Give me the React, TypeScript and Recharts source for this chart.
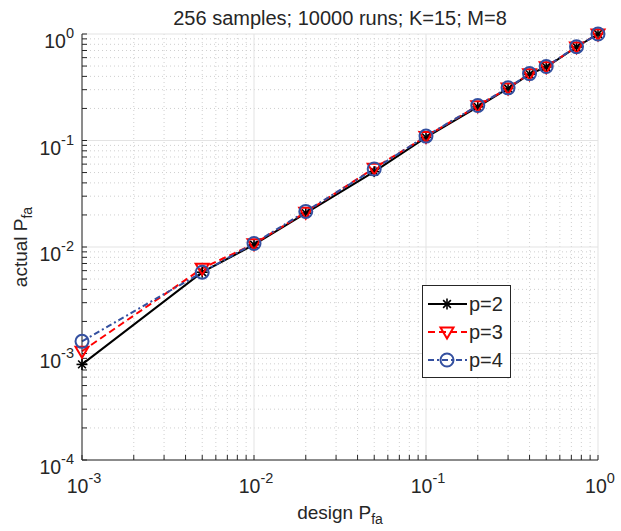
import React from "react";
import { LineChart, Line, XAxis, YAxis, CartesianGrid } from "recharts";

// design Pfa on the x axis
const designPfa = [0.001, 0.005, 0.01, 0.02, 0.05, 0.1, 0.2, 0.3, 0.4, 0.5, 0.75, 1];
// actual Pfa per filter order
const p2 = [7.9e-4, 5.8e-3, 0.0105, 0.0208, 0.051, 0.107, 0.207, 0.308, 0.42, 0.49, 0.755, 1.0];
const p3 = [1.05e-3, 6.3e-3, 0.0107, 0.0212, 0.055, 0.109, 0.212, 0.311, 0.423, 0.493, 0.757, 1.0];
const p4 = [1.3e-3, 5.8e-3, 0.0108, 0.0216, 0.054, 0.11, 0.213, 0.312, 0.425, 0.495, 0.76, 1.0];

const seriesNames = ["p=2", "p=3", "p=4"];
const xMajor = [0.001, 0.01, 0.1, 1];
const yMajor = [0.0001, 0.001, 0.01, 0.1, 1];

const minorsOf = (majors: number[]) =>
  majors.slice(0, -1).flatMap((m) => [2, 3, 4, 5, 6, 7, 8, 9].map((k) => k * m));

const xMinor = minorsOf(xMajor);
const yMinor = minorsOf(yMajor);
const xTicks = [...xMajor, ...xMinor].sort((a, b) => a - b);
const yTicks = [...yMajor, ...yMinor].sort((a, b) => a - b);

const data = designPfa.map((x, i) => ({ x, p2: p2[i], p3: p3[i], p4: p4[i] }));

const AXIS = "#262626";
const RED = "#ff0000";
const BLUE = "#3450a0";
const FONT = "'Liberation Sans', Arial, Helvetica, sans-serif";

const isMajor = (v: number) => Math.abs(Math.log10(v) - Math.round(Math.log10(v))) < 1e-9;

const Star = ({ cx, cy, color, s = 5.5 }: any) => {
  const d = s * 0.707;
  return (
    <g stroke={color} strokeWidth={1.6}>
      <line x1={cx - s} y1={cy} x2={cx + s} y2={cy} />
      <line x1={cx} y1={cy - s} x2={cx} y2={cy + s} />
      <line x1={cx - d} y1={cy - d} x2={cx + d} y2={cy + d} />
      <line x1={cx - d} y1={cy + d} x2={cx + d} y2={cy - d} />
    </g>
  );
};

const TriDown = ({ cx, cy, color }: any) => (
  <polygon
    points={`${cx - 6.5},${cy - 4.5} ${cx + 6.5},${cy - 4.5} ${cx},${cy + 6.5}`}
    fill="none"
    stroke={color}
    strokeWidth={2}
  />
);

const Ring = ({ cx, cy, color }: any) => (
  <circle cx={cx} cy={cy} r={6.5} fill="none" stroke={color} strokeWidth={2} />
);

const seriesStyle = [
  { key: "p2", color: "#000000", dash: undefined as string | undefined, Marker: Star },
  { key: "p3", color: RED, dash: "7 4", Marker: TriDown },
  { key: "p4", color: BLUE, dash: "6 3 2 3", Marker: Ring },
];

const expLabel = (v: number) => String(Math.round(Math.log10(v)));

const XTick = (props: any) => {
  const { x, y, payload } = props;
  if (!isMajor(payload.value)) return <g />;
  return (
    <text x={x + 2} y={y + 33} textAnchor="middle" fill={AXIS} fontFamily={FONT} fontSize={19.5}>
      10
      <tspan dy={-10} fontSize={14.5}>
        {expLabel(payload.value)}
      </tspan>
    </text>
  );
};

const YTick = (props: any) => {
  const { x, y, payload } = props;
  if (!isMajor(payload.value)) return <g />;
  return (
    <text x={x - 8} y={y + 14} textAnchor="end" fill={AXIS} fontFamily={FONT} fontSize={19.5}>
      10
      <tspan dy={-10} fontSize={14.5}>
        {expLabel(payload.value)}
      </tspan>
    </text>
  );
};

export default function App() {
  return (
    <div style={{ position: "absolute", left: 0, top: 0, width: 621, height: 531, background: "#fff" }}>
      <LineChart
        width={621}
        height={531}
        data={data}
        margin={{ top: 34, right: 23, bottom: 0, left: 0 }}
      >
        <CartesianGrid
          horizontalValues={yMinor}
          verticalValues={xMinor}
          stroke="#cfcfcf"
          strokeDasharray="1 3"
        />
        <CartesianGrid
          horizontalValues={yMajor}
          verticalValues={xMajor}
          stroke="#e3e3e3"
        />
        <XAxis
          dataKey="x"
          type="number"
          scale="log"
          domain={[0.001, 1]}
          ticks={xTicks}
          interval={0}
          height={71}
          tickSize={-5}
          tickMargin={5}
          tick={<XTick />}
          stroke={AXIS}
        />
        <XAxis
          xAxisId="top"
          dataKey="x"
          orientation="top"
          type="number"
          scale="log"
          domain={[0.001, 1]}
          ticks={xTicks}
          interval={0}
          height={0}
          tickSize={-5}
          tick={false}
          stroke={AXIS}
        />
        <YAxis
          type="number"
          scale="log"
          domain={[0.0001, 1]}
          ticks={yTicks}
          interval={0}
          width={82}
          tickSize={-5}
          tickMargin={5}
          tick={<YTick />}
          stroke={AXIS}
        />
        <YAxis
          yAxisId="right"
          orientation="right"
          type="number"
          scale="log"
          domain={[0.0001, 1]}
          ticks={yTicks}
          interval={0}
          width={0}
          tickSize={-5}
          tick={false}
          stroke={AXIS}
        />
        {seriesStyle.map((s, i) => (
          <Line
            key={s.key}
            dataKey={s.key}
            name={seriesNames[i]}
            type="linear"
            stroke={s.color}
            strokeWidth={2}
            strokeDasharray={s.dash}
            isAnimationActive={false}
            dot={(p: any) => <s.Marker key={`${s.key}-${p.index}`} cx={p.cx} cy={p.cy} color={s.color} />}
            activeDot={false}
          />
        ))}
      </LineChart>

      {/* title */}
      <div
        style={{
          position: "absolute",
          left: 82,
          width: 516,
          top: 6,
          textAlign: "center",
          fontFamily: FONT,
          fontSize: 20,
          color: AXIS,
          lineHeight: "24px",
        }}
      >
        256 samples; 10000 runs; K=15; M=8
      </div>

      {/* x label */}
      <div
        style={{
          position: "absolute",
          left: 82,
          width: 516,
          top: 502,
          textAlign: "center",
          fontFamily: FONT,
          fontSize: 19,
          color: AXIS,
          lineHeight: "22px",
        }}
      >
        design P<sub style={{ fontSize: 14 }}>fa</sub>
      </div>

      {/* y label */}
      <div
        style={{
          position: "absolute",
          left: 24,
          top: 247,
          transform: "translate(-50%, -50%) rotate(-90deg)",
          whiteSpace: "nowrap",
          fontFamily: FONT,
          fontSize: 19,
          color: AXIS,
          lineHeight: "22px",
        }}
      >
        actual P<sub style={{ fontSize: 14 }}>fa</sub>
      </div>

      {/* legend */}
      <div
        style={{
          position: "absolute",
          left: 422,
          top: 285,
          width: 89,
          height: 93,
          border: `1px solid ${AXIS}`,
          background: "#fff",
          boxSizing: "border-box",
        }}
      >
        {seriesStyle.map((s, i) => (
          <div
            key={s.key}
            style={{
              position: "absolute",
              left: 4,
              top: 4 + i * 28,
              height: 28,
              display: "flex",
              alignItems: "center",
            }}
          >
            <svg width={42} height={28}>
              <line x1={1} y1={14} x2={40} y2={14} stroke={s.color} strokeWidth={2} strokeDasharray={s.dash} />
              <s.Marker cx={20} cy={14} color={s.color} />
            </svg>
            <span style={{ fontFamily: FONT, fontSize: 20, color: AXIS }}>{seriesNames[i]}</span>
          </div>
        ))}
      </div>
    </div>
  );
}
